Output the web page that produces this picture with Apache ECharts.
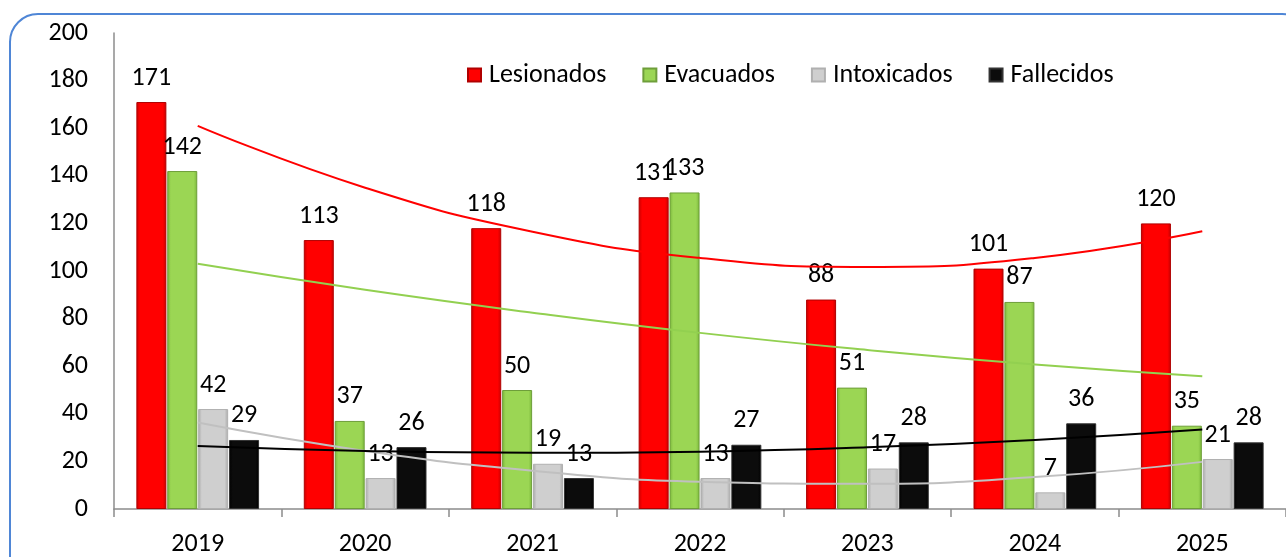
<!DOCTYPE html>
<html>
<head>
<meta charset="utf-8">
<script src="https://cdn.jsdelivr.net/npm/echarts@6/dist/echarts.min.js"></script>
<style>
html,body{margin:0;padding:0;background:#fff;}
#chart{width:1286px;height:557px;}
</style>
</head>
<body>
<div id="chart"></div>
<script>
const categories = ['2019','2020','2021','2022','2023','2024','2025'];
const lesionados = [171,113,118,131,88,101,120];
const evacuados = [142,37,50,133,51,87,35];
const intoxicados = [42,13,19,13,17,7,21];
const fallecidos = [29,26,13,27,28,36,28];
// trend lines (polynomial trend)
const trendLesionados = [161,135,116.5,105.5,101.7,105.5,116.7];
const trendEvacuados = [103,92.1,82.5,74,66.8,60.7,55.8];
const trendIntoxicados = [36.3,24.4,16.1,11.5,10.6,13.4,19.8];
const trendFallecidos = [26.5,24.4,23.6,24.1,25.9,29,33.4];
const yTicks = [0,20,40,60,80,100,120,140,160,180,200];

const FONT = 'Carlito, Lato, "Noto Sans", sans-serif';
const chart = echarts.init(document.getElementById('chart'), null, {renderer:'canvas'});

function grad(dark, mid){
  return new echarts.graphic.LinearGradient(0,0,1,0,[
    {offset:0,color:dark},{offset:0.12,color:mid},{offset:0.88,color:mid},{offset:1,color:dark}
  ]);
}
function barSeries(name, data, color, border){
  return {
    name, type:'bar', data, barWidth:30, barGap:'3%',
    itemStyle:{color:color, borderColor:border, borderWidth:1},
    label:{show:true, position:'top', distance:11, color:'#000', fontSize:26, fontFamily:FONT},
    z:2
  };
}
function lineSeries(name, data, color){
  return {
    name, type:'line', data, smooth:true, showSymbol:false, symbol:'none',
    lineStyle:{color, width:2}, silent:true, z:3
  };
}

chart.setOption({
  animation:false,
  backgroundColor:'#fff',
  graphic:[{
    type:'rect', shape:{x:10,y:14,width:1300,height:570,r:28},
    style:{fill:'none', stroke:'#4f86d6', lineWidth:2}, z:-1
  }],
  legend:{
    data:['Lesionados','Evacuados','Intoxicados','Fallecidos'],
    left:462, top:57, itemWidth:13, itemHeight:13, itemGap:36,
    icon:'rect',
    textStyle:{fontSize:26, fontFamily:FONT, color:'#000', padding:[0,0,0,3]}
  },
  grid:{left:114, top:33, right:-8, bottom:46, containLabel:false},
  xAxis:{
    type:'category', data:categories,
    axisLine:{lineStyle:{color:'#8c8c8c', width:1.5}},
    axisTick:{show:true, interval:0, length:8, lineStyle:{color:'#8c8c8c', width:1.5}},
    axisLabel:{fontSize:26, fontFamily:FONT, color:'#000', margin:22}
  },
  yAxis:{
    type:'value', min:0, max:200, interval:20,
    axisLine:{show:true, lineStyle:{color:'#8c8c8c', width:1.5}},
    axisTick:{show:false},
    splitLine:{show:false},
    axisLabel:{fontSize:26, fontFamily:FONT, color:'#000', margin:26}
  },
  series:[
    barSeries('Lesionados', lesionados, grad('#c80000','#ff0000'), '#b00000'),
    barSeries('Evacuados', evacuados, grad('#79b63a','#9bd654'), '#6e9e3a'),
    barSeries('Intoxicados', intoxicados, grad('#a8a8a8','#cfcfcf'), '#b0b0b0'),
    barSeries('Fallecidos', fallecidos, grad('#000','#0c0c0c'), '#333'),
    lineSeries('tL', trendLesionados, '#ff0000'),
    lineSeries('tE', trendEvacuados, '#92d050'),
    lineSeries('tI', trendIntoxicados, '#c0c0c0'),
    lineSeries('tF', trendFallecidos, '#000000')
  ]
});
</script>
</body>
</html>
